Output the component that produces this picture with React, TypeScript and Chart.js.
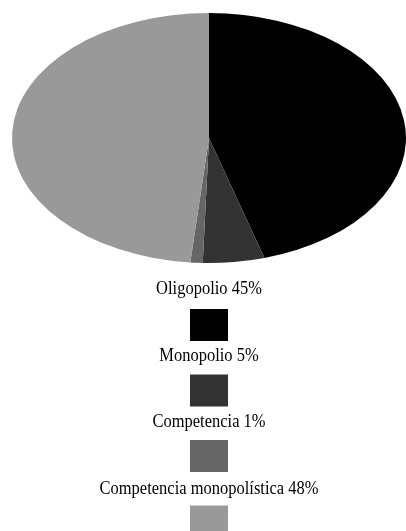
import React, { useEffect, useRef } from "react";
import { Chart, registerables } from "chart.js";

Chart.register(...registerables);

const categories = [
  "Oligopolio 45%",
  "Monopolio 5%",
  "Competencia 1%",
  "Competencia monopolística 48%",
];
const shares = [45, 5, 1, 48];
const colors = ["#000000", "#333333", "#666666", "#999999"];

const W = 406;
const H = 531;

const ellipsePlugin = {
  id: "ellipse",
  beforeDatasetsDraw(chart: any) {
    const meta = chart.getDatasetMeta(0);
    const arc = meta.data[0];
    if (!arc) return;
    const ctx = chart.ctx;
    const cx = arc.x;
    const cy = arc.y;
    const r = arc.outerRadius;
    const sx = 197 / r;
    ctx.save();
    ctx.translate(cx, cy);
    ctx.scale(sx, 1);
    ctx.translate(-cx, -cy);
  },
  afterDatasetsDraw(chart: any) {
    chart.ctx.restore();
  },
};

const stackedLegend = {
  id: "stackedLegend",
  afterDraw(chart: any) {
    const ctx = chart.ctx;
    const labels = chart.data.labels as string[];
    const bg = chart.data.datasets[0].backgroundColor as string[];
    const cx = 209;
    ctx.save();
    ctx.textAlign = "center";
    ctx.textBaseline = "middle";
    labels.forEach((lab, i) => {
      const ty = 289 + 66.5 * i;
      const by = 309 + 65.5 * i;
      ctx.save();
      ctx.translate(cx, ty);
      ctx.scale(0.97, 1.12);
      ctx.font = "17px 'Liberation Serif', 'Times New Roman', serif";
      ctx.fillStyle = "#000000";
      ctx.fillText(lab, 0, 0);
      ctx.restore();
      ctx.fillStyle = bg[i];
      ctx.fillRect(cx - 19, by, 38, 32);
    });
    ctx.restore();
  },
};

export default function App() {
  const ref = useRef<HTMLCanvasElement>(null);
  useEffect(() => {
    const chart = new Chart(ref.current!, {
      type: "pie",
      data: {
        labels: categories,
        datasets: [
          {
            data: shares,
            backgroundColor: colors,
            borderWidth: 0,
          },
        ],
      },
      options: {
        responsive: false,
        animation: false,
        layout: { padding: { top: 13, bottom: 268, left: 12, right: 0 } },
        plugins: {
          legend: { display: false },
          tooltip: { enabled: false },
        },
      },
      plugins: [ellipsePlugin, stackedLegend],
    });
    return () => chart.destroy();
  }, []);
  return (
    <div style={{ position: "absolute", left: 0, top: 0, width: W, height: H, background: "#fff" }}>
      <canvas ref={ref} width={W} height={H} style={{ width: W, height: H, display: "block" }} />
    </div>
  );
}
